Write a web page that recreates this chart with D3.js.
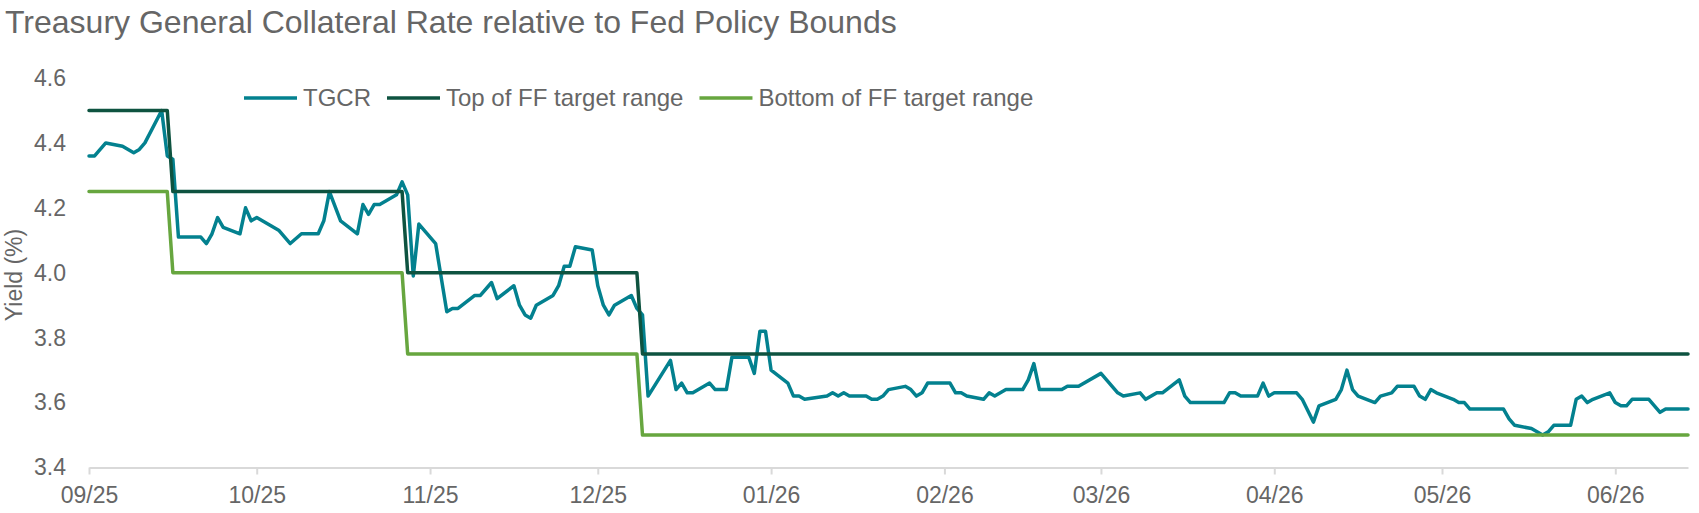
<!DOCTYPE html>
<html>
  <head>
    <meta charset="utf-8">
    <title>TGCR vs Fed Policy Bounds</title>
    <script src="https://d3js.org/d3.v7.min.js"></script>
    <style>
      body { margin: 0; background: #fff; }
      text { font-family: "Liberation Sans", Arial, sans-serif; fill: #666; }
    </style>
  </head>
  <body>
    <div id="chart"></div>
    <script>
      // TGCR, daily
      const tgcrDates = [
        "2025-09-01","2025-09-02","2025-09-04","2025-09-07","2025-09-09","2025-09-10","2025-09-11","2025-09-14","2025-09-15","2025-09-16",
        "2025-09-17","2025-09-21","2025-09-22","2025-09-23","2025-09-24","2025-09-25","2025-09-28","2025-09-29","2025-09-30",
        "2025-10-01","2025-10-05","2025-10-07","2025-10-09","2025-10-12","2025-10-13","2025-10-14","2025-10-16","2025-10-19","2025-10-20",
        "2025-10-21","2025-10-22","2025-10-23","2025-10-26","2025-10-27","2025-10-28","2025-10-29","2025-10-30",
        "2025-11-02","2025-11-04","2025-11-05","2025-11-06","2025-11-09","2025-11-10","2025-11-12","2025-11-13","2025-11-16","2025-11-17",
        "2025-11-18","2025-11-19","2025-11-20","2025-11-23","2025-11-24","2025-11-25","2025-11-26","2025-11-27","2025-11-30",
        "2025-12-01","2025-12-02","2025-12-03","2025-12-04","2025-12-07","2025-12-08","2025-12-09","2025-12-10","2025-12-14","2025-12-15",
        "2025-12-16","2025-12-17","2025-12-18","2025-12-21","2025-12-22","2025-12-24","2025-12-25","2025-12-28","2025-12-29","2025-12-30","2025-12-31",
        "2026-01-01","2026-01-04","2026-01-05","2026-01-06","2026-01-07","2026-01-11","2026-01-12","2026-01-13","2026-01-14","2026-01-15",
        "2026-01-18","2026-01-19","2026-01-20","2026-01-21","2026-01-22","2026-01-25","2026-01-26","2026-01-27","2026-01-28","2026-01-29",
        "2026-02-02","2026-02-03","2026-02-04","2026-02-05","2026-02-08","2026-02-09","2026-02-10","2026-02-12","2026-02-15","2026-02-16",
        "2026-02-17","2026-02-18","2026-02-22","2026-02-23","2026-02-25",
        "2026-03-01","2026-03-02","2026-03-03","2026-03-04","2026-03-05","2026-03-08","2026-03-09","2026-03-10","2026-03-11","2026-03-12",
        "2026-03-15","2026-03-16","2026-03-17","2026-03-23","2026-03-24","2026-03-25","2026-03-26","2026-03-29","2026-03-30","2026-03-31",
        "2026-04-01","2026-04-05","2026-04-06","2026-04-08","2026-04-09","2026-04-12","2026-04-13","2026-04-14","2026-04-15","2026-04-16",
        "2026-04-19","2026-04-20","2026-04-22","2026-04-23","2026-04-26","2026-04-27","2026-04-28","2026-04-29","2026-04-30",
        "2026-05-03","2026-05-04","2026-05-05","2026-05-06","2026-05-12","2026-05-13","2026-05-14","2026-05-17","2026-05-18","2026-05-19",
        "2026-05-20","2026-05-21","2026-05-24","2026-05-25","2026-05-26","2026-05-27","2026-05-28","2026-05-31",
        "2026-06-01","2026-06-02","2026-06-03","2026-06-04","2026-06-07","2026-06-09","2026-06-10","2026-06-14"
      ];
      const tgcrValues = [
        4.36,4.36,4.40,4.39,4.37,4.38,4.40,4.50,4.36,4.35,
        4.11,4.11,4.09,4.12,4.17,4.14,4.12,4.20,4.16,
        4.17,4.13,4.09,4.12,4.12,4.16,4.25,4.16,4.12,4.21,
        4.18,4.21,4.21,4.24,4.28,4.24,3.99,4.15,
        4.09,3.88,3.89,3.89,3.93,3.93,3.97,3.92,3.96,3.90,
        3.87,3.86,3.90,3.93,3.96,4.02,4.02,4.08,4.07,
        3.96,3.90,3.87,3.90,3.93,3.89,3.87,3.62,3.73,3.64,
        3.66,3.63,3.63,3.66,3.64,3.64,3.74,3.74,3.69,3.82,3.82,
        3.70,3.66,3.62,3.62,3.61,3.62,3.63,3.62,3.63,3.62,
        3.62,3.61,3.61,3.62,3.64,3.65,3.64,3.62,3.63,3.66,
        3.66,3.63,3.63,3.62,3.61,3.63,3.62,3.64,3.64,3.67,
        3.72,3.64,3.64,3.65,3.65,
        3.69,3.67,3.65,3.63,3.62,3.63,3.61,3.62,3.63,3.63,
        3.67,3.62,3.60,3.60,3.63,3.63,3.62,3.62,3.66,3.62,
        3.63,3.63,3.61,3.54,3.59,3.61,3.64,3.70,3.64,3.62,
        3.60,3.62,3.63,3.65,3.65,3.62,3.61,3.64,3.63,
        3.61,3.60,3.60,3.58,3.58,3.55,3.53,3.52,3.51,3.50,
        3.51,3.53,3.53,3.61,3.62,3.60,3.61,3.63,
        3.60,3.59,3.59,3.61,3.61,3.57,3.58,3.58
      ];

      // FF target range change points
      const policyDates = ["2025-09-01","2025-09-15","2025-09-16","2025-10-27","2025-10-28","2025-12-08","2025-12-09","2026-06-14"];
      const topRange    = [4.50, 4.50, 4.25, 4.25, 4.00, 4.00, 3.75, 3.75];
      const bottomRange = [4.25, 4.25, 4.00, 4.00, 3.75, 3.75, 3.50, 3.50];

      const yTicks = [3.4, 3.6, 3.8, 4.0, 4.2, 4.4, 4.6];
      const seriesNames = ["TGCR", "Top of FF target range", "Bottom of FF target range"];
      const seriesColors = ["#03818f", "#0e5340", "#67a63f"];

      const width = 1699, height = 513;
      const parse = d3.timeParse("%Y-%m-%d");

      const svg = d3.select("#chart").append("svg")
          .attr("width", width)
          .attr("height", height);

      const x = d3.scaleTime()
          .domain([parse(policyDates[0]), parse(policyDates[policyDates.length - 1])])
          .range([89, 1688]);
      const y = d3.scaleLinear()
          .domain([3.4, 4.6])
          .range([467.5, 78]);

      svg.append("text")
          .attr("x", 5)
          .attr("y", 33)
          .style("font-size", "32px")
          .text("Treasury General Collateral Rate relative to Fed Policy Bounds");

      // y axis (labels only)
      const yAxis = svg.append("g")
          .attr("transform", "translate(66,0)")
          .call(d3.axisLeft(y).tickValues(yTicks).tickFormat(d3.format(".1f")).tickSize(0).tickPadding(0));
      yAxis.select(".domain").remove();
      yAxis.selectAll("text").style("font-size", "23px").style("fill", "#666").attr("font-family", null);

      svg.append("text")
          .attr("transform", "translate(22,275) rotate(-90)")
          .attr("text-anchor", "middle")
          .style("font-size", "23px")
          .text("Yield (%)");

      // x axis
      const xAxis = svg.append("g")
          .attr("transform", `translate(0,${y(3.4)})`)
          .call(d3.axisBottom(x)
              .ticks(d3.timeMonth.every(1))
              .tickFormat(d3.timeFormat("%m/%y"))
              .tickSize(7)
              .tickSizeOuter(0)
              .tickPadding(12));
      xAxis.select(".domain").attr("stroke", "#d9d9d9").attr("stroke-width", 2);
      xAxis.selectAll(".tick line").attr("stroke", "#d9d9d9").attr("stroke-width", 2);
      xAxis.selectAll("text").style("font-size", "23px").style("fill", "#666").attr("font-family", null);

      const line = d3.line()
          .x(d => x(d.date))
          .y(d => y(d.value));

      const series = [
        tgcrDates.map((d, i) => ({date: parse(d), value: tgcrValues[i]})),
        policyDates.map((d, i) => ({date: parse(d), value: topRange[i]})),
        policyDates.map((d, i) => ({date: parse(d), value: bottomRange[i]}))
      ];

      svg.selectAll(".series")
          .data(series)
          .enter()
          .append("path")
          .attr("class", "series")
          .attr("d", line)
          .attr("fill", "none")
          .attr("stroke", (d, i) => seriesColors[i])
          .attr("stroke-width", 3.5)
          .attr("stroke-linejoin", "round")
          .attr("stroke-linecap", "round");

      // legend
      const legend = svg.append("g").attr("transform", "translate(244,98)");
      let lx = 0;
      seriesNames.forEach((name, i) => {
        legend.append("line")
            .attr("x1", lx).attr("x2", lx + 53)
            .attr("stroke", seriesColors[i])
            .attr("stroke-width", 3.5);
        const t = legend.append("text")
            .attr("x", lx + 59)
            .attr("dy", "0.35em")
            .style("font-size", "24px")
            .text(name);
        lx += 59 + t.node().getComputedTextLength() + 16;
      });
    </script>
  </body>
</html>
